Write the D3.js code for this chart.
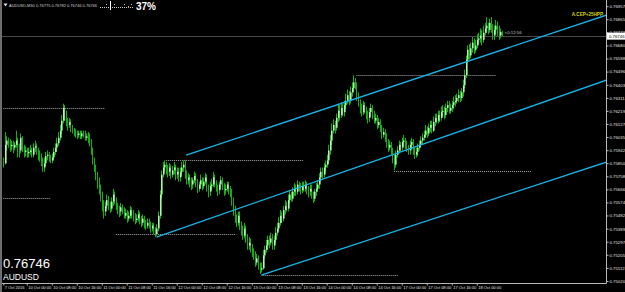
<!DOCTYPE html>
<html><head><meta charset="utf-8">
<script src="https://cdn.jsdelivr.net/npm/d3@7"></script>
<style>html,body{margin:0;padding:0;background:#000;overflow:hidden}</style>
</head><body>
<svg id="c" width="625" height="292"></svg>
<script>
// ---- data (AUDUSD M30, 7 Oct 2016 16:30 -> 18 Oct 2016 08:00) ----
const symbol = "AUDUSD";
const headerText = "AUDUSD,M30 0.76775 0.76782 0.76746 0.76746";
const lastPrice = 0.76746;
const firstOpen = 0.7587;
const closes = [
0.7585,0.7598,0.7601,0.7600,0.7597,0.7598,0.7596,0.7598,0.7601,0.7596,0.7594,0.7603,0.7596,0.7593,0.7594,0.7592,
0.7593,0.7594,0.7591,0.7596,0.7597,0.7594,0.7591,0.7589,0.7587,0.7582,0.7585,0.7590,0.7591,0.7589,0.7587,0.7589,
0.7593,0.7596,0.7599,0.7603,0.7608,0.7615,0.7624,0.7619,0.7614,0.7612,0.7614,0.7610,0.7608,0.7607,0.7606,0.7605,
0.7606,0.7604,0.7606,0.7605,0.7603,0.7604,0.7603,0.7600,0.7594,0.7587,0.7582,0.7577,0.7572,0.7567,0.7563,0.7555,
0.7551,0.7555,0.7559,0.7555,0.7553,0.7558,0.7563,0.7559,0.7555,0.7552,0.7551,0.7554,0.7552,0.7548,0.7550,0.7546,
0.7548,0.7552,0.7549,0.7547,0.7545,0.7546,0.7549,0.7545,0.7543,0.7546,0.7542,0.7541,0.7543,0.7541,0.7539,0.7541,
0.7538,0.7535,0.7539,0.7548,0.7563,0.7577,0.7582,0.7584,0.7580,0.7579,0.7582,0.7577,0.7580,0.7582,0.7577,0.7579,
0.7575,0.7579,0.7582,0.7584,0.7577,0.7573,0.7575,0.7572,0.7570,0.7573,0.7576,0.7571,0.7567,0.7570,0.7573,0.7569,
0.7572,0.7575,0.7567,0.7565,0.7569,0.7570,0.7575,0.7571,0.7567,0.7566,0.7570,0.7573,0.7568,0.7566,0.7567,0.7570,
0.7566,0.7565,0.7559,0.7552,0.7546,0.7543,0.7548,0.7541,0.7538,0.7534,0.7539,0.7532,0.7527,0.7529,0.7525,0.7522,
0.7520,0.7515,0.7518,0.7513,0.7510,0.7511,0.7520,0.7524,0.7527,0.7531,0.7529,0.7532,0.7527,0.7531,0.7536,0.7539,
0.7543,0.7548,0.7546,0.7552,0.7555,0.7553,0.7559,0.7563,0.7560,0.7565,0.7567,0.7565,0.7570,0.7567,0.7566,0.7569,
0.7567,0.7570,0.7566,0.7565,0.7567,0.7563,0.7560,0.7565,0.7567,0.7570,0.7575,0.7579,0.7577,0.7582,0.7584,0.7587,
0.7594,0.7601,0.7608,0.7612,0.7610,0.7617,0.7622,0.7619,0.7624,0.7621,0.7626,0.7629,0.7633,0.7629,0.7635,0.7638,
0.7642,0.7640,0.7633,0.7628,0.7624,0.7621,0.7626,0.7622,0.7619,0.7617,0.7621,0.7624,0.7619,0.7615,0.7617,0.7612,
0.7614,0.7610,0.7605,0.7607,0.7603,0.7600,0.7596,0.7598,0.7594,0.7589,0.7584,0.7591,0.7594,0.7598,0.7596,0.7600,
0.7601,0.7598,0.7596,0.7594,0.7598,0.7600,0.7594,0.7591,0.7593,0.7596,0.7598,0.7601,0.7603,0.7605,0.7608,0.7606,
0.7610,0.7612,0.7608,0.7614,0.7617,0.7615,0.7619,0.7617,0.7621,0.7622,0.7619,0.7624,0.7626,0.7622,0.7624,0.7626,
0.7628,0.7629,0.7631,0.7633,0.7631,0.7635,0.7640,0.7647,0.7658,0.7665,0.7661,0.7666,0.7670,0.7665,0.7668,0.7672,
0.7673,0.7675,0.7672,0.7677,0.7680,0.7682,0.7679,0.7684,0.7680,0.7675,0.7679,0.7682,0.7679,0.7675,0.76775,0.76746];
const highs = [
0.7589,0.7607,0.7604,0.7603,0.7602,0.7601,0.7601,0.7600,0.7608,0.7603,0.7599,0.7606,0.7604,0.7598,0.7597,0.7596,
0.7596,0.7598,0.7596,0.7599,0.7601,0.7599,0.7596,0.7594,0.7592,0.7589,0.7589,0.7593,0.7594,0.7593,0.7591,0.7592,
0.7596,0.7599,0.7603,0.7607,0.7612,0.7619,0.7627,0.7626,0.7622,0.7617,0.7617,0.7616,0.7612,0.7610,0.7609,0.7608,
0.7608,0.7608,0.7608,0.7608,0.7608,0.7606,0.7607,0.7606,0.7602,0.7596,0.7589,0.7584,0.7579,0.7575,0.7570,0.7565,
0.7559,0.7558,0.7563,0.7562,0.7558,0.7561,0.7567,0.7565,0.7561,0.7557,0.7555,0.7557,0.7556,0.7554,0.7553,0.7552,
0.7551,0.7555,0.7554,0.7552,0.7550,0.7549,0.7552,0.7551,0.7548,0.7549,0.7548,0.7545,0.7546,0.7546,0.7544,0.7543,
0.7543,0.7540,0.7542,0.7551,0.7566,0.7580,0.7586,0.7587,0.7586,0.7584,0.7585,0.7584,0.7583,0.7586,0.7584,0.7582,
0.7582,0.7582,0.7586,0.7587,0.7587,0.7580,0.7578,0.7577,0.7575,0.7575,0.7579,0.7578,0.7574,0.7572,0.7577,0.7575,
0.7575,0.7578,0.7577,0.7570,0.7572,0.7574,0.7579,0.7577,0.7573,0.7570,0.7572,0.7576,0.7575,0.7571,0.7570,0.7572,
0.7572,0.7569,0.7567,0.7561,0.7555,0.7549,0.7551,0.7551,0.7544,0.7541,0.7543,0.7541,0.7535,0.7533,0.7532,0.7528,
0.7525,0.7523,0.7521,0.7520,0.7515,0.7515,0.7524,0.7527,0.7531,0.7534,0.7534,0.7536,0.7535,0.7534,0.7540,0.7543,
0.7547,0.7552,0.7551,0.7555,0.7559,0.7558,0.7563,0.7566,0.7565,0.7568,0.7571,0.7570,0.7573,0.7572,0.7571,0.7572,
0.7572,0.7573,0.7572,0.7569,0.7570,0.7570,0.7565,0.7567,0.7571,0.7573,0.7578,0.7582,0.7582,0.7585,0.7587,0.7591,
0.7598,0.7605,0.7613,0.7616,0.7615,0.7620,0.7627,0.7626,0.7628,0.7627,0.7629,0.7634,0.7637,0.7636,0.7639,0.7642,
0.7647,0.7645,0.7642,0.7635,0.7630,0.7627,0.7629,0.7628,0.7625,0.7622,0.7624,0.7627,0.7626,0.7622,0.7620,0.7619,
0.7617,0.7616,0.7612,0.7610,0.7609,0.7606,0.7602,0.7601,0.7600,0.7596,0.7591,0.7594,0.7597,0.7601,0.7600,0.7603,
0.7605,0.7603,0.7601,0.7598,0.7601,0.7603,0.7602,0.7596,0.7596,0.7599,0.7601,0.7604,0.7606,0.7608,0.7612,0.7611,
0.7613,0.7615,0.7615,0.7618,0.7620,0.7620,0.7622,0.7622,0.7625,0.7626,0.7625,0.7627,0.7629,0.7629,0.7627,0.7629,
0.7632,0.7633,0.7634,0.7637,0.7636,0.7638,0.7644,0.7651,0.7661,0.7668,0.7669,0.7670,0.7674,0.7673,0.7672,0.7676,
0.7677,0.7680,0.7679,0.7682,0.7684,0.7688,0.7684,0.7687,0.7688,0.7683,0.7682,0.7686,0.7685,0.7682,0.7680,0.76782];
const lows = [
0.7582,0.7584,0.7594,0.7596,0.7593,0.7594,0.7592,0.7594,0.7596,0.7589,0.7589,0.7592,0.7593,0.7589,0.7590,0.7589,
0.7589,0.7591,0.7589,0.7589,0.7593,0.7591,0.7587,0.7586,0.7583,0.7579,0.7579,0.7583,0.7587,0.7586,0.7585,0.7585,
0.7587,0.7591,0.7593,0.7597,0.7601,0.7606,0.7613,0.7615,0.7611,0.7608,0.7610,0.7607,0.7606,0.7604,0.7603,0.7602,
0.7603,0.7602,0.7602,0.7603,0.7601,0.7601,0.7599,0.7597,0.7591,0.7584,0.7579,0.7573,0.7567,0.7563,0.7558,0.7551,
0.7546,0.7548,0.7553,0.7552,0.7550,0.7551,0.7555,0.7556,0.7552,0.7549,0.7547,0.7548,0.7549,0.7546,0.7546,0.7543,
0.7544,0.7546,0.7546,0.7544,0.7542,0.7543,0.7544,0.7542,0.7540,0.7541,0.7539,0.7538,0.7539,0.7539,0.7536,0.7537,
0.7535,0.7533,0.7534,0.7537,0.7546,0.7560,0.7575,0.7579,0.7577,0.7575,0.7576,0.7574,0.7575,0.7577,0.7573,0.7574,
0.7572,0.7572,0.7576,0.7579,0.7574,0.7570,0.7570,0.7568,0.7566,0.7567,0.7571,0.7568,0.7564,0.7565,0.7567,0.7566,
0.7567,0.7570,0.7565,0.7561,0.7562,0.7566,0.7568,0.7568,0.7565,0.7562,0.7563,0.7567,0.7566,0.7562,0.7563,0.7565,
0.7563,0.7561,0.7555,0.7548,0.7543,0.7540,0.7541,0.7538,0.7534,0.7531,0.7532,0.7529,0.7524,0.7524,0.7522,0.7519,
0.7517,0.7512,0.7513,0.7510,0.7507,0.7508,0.7510,0.7518,0.7522,0.7524,0.7525,0.7527,0.7524,0.7524,0.7529,0.7534,
0.7537,0.7541,0.7543,0.7544,0.7549,0.7551,0.7551,0.7557,0.7558,0.7558,0.7562,0.7562,0.7563,0.7565,0.7563,0.7564,
0.7565,0.7565,0.7563,0.7561,0.7562,0.7560,0.7557,0.7558,0.7562,0.7565,0.7567,0.7572,0.7574,0.7575,0.7579,0.7582,
0.7585,0.7591,0.7598,0.7606,0.7606,0.7608,0.7614,0.7615,0.7617,0.7618,0.7618,0.7623,0.7627,0.7626,0.7627,0.7632,
0.7635,0.7637,0.7629,0.7625,0.7620,0.7618,0.7619,0.7620,0.7616,0.7613,0.7614,0.7618,0.7616,0.7613,0.7613,0.7609,
0.7610,0.7607,0.7602,0.7603,0.7600,0.7596,0.7593,0.7594,0.7591,0.7585,0.7580,0.7582,0.7589,0.7592,0.7593,0.7594,
0.7597,0.7595,0.7593,0.7591,0.7591,0.7595,0.7591,0.7588,0.7589,0.7590,0.7594,0.7596,0.7598,0.7601,0.7603,0.7603,
0.7604,0.7607,0.7606,0.7607,0.7611,0.7613,0.7613,0.7614,0.7615,0.7618,0.7616,0.7617,0.7621,0.7620,0.7620,0.7621,
0.7623,0.7625,0.7627,0.7628,0.7628,0.7629,0.7632,0.7638,0.7645,0.7656,0.7658,0.7659,0.7663,0.7662,0.7663,0.7666,
0.7669,0.7670,0.7668,0.7670,0.7675,0.7677,0.7676,0.7677,0.7677,0.7672,0.7672,0.7676,0.7675,0.7672,0.7673,0.76746];

const priceTicks = [0.76957,0.76865,0.76773,0.76680,0.76588,0.76496,0.76403,0.76311,0.76219,0.76127,0.76035,
  0.75942,0.75850,0.75758,0.75666,0.75574,0.75482,0.75389,0.75297,0.75205,0.75112,0.75020];
const timeTickBars = [0,15,31,47,63,79,95,111,127,143,159,175,191,207,223,239,255,271,287,303];
const timeLabels = ["7 Oct 2016","10 Oct 00:00","10 Oct 08:00","10 Oct 16:00","11 Oct 00:00","11 Oct 08:00",
  "11 Oct 16:00","12 Oct 00:00","12 Oct 08:00","12 Oct 16:00","13 Oct 00:00","13 Oct 08:00","13 Oct 16:00",
  "14 Oct 00:00","14 Oct 08:00","14 Oct 16:00","17 Oct 00:00","17 Oct 08:00","17 Oct 16:00","18 Oct 00:00"];

// channel lines: [startBar, startPrice, endBar, endPrice]
const channelStart = [[117, 0.75907], [98, 0.75329], [165, 0.75061]];
const channelEnd   = [[386, 0.76894], [386, 0.76436], [386, 0.75858]];
// dotted support / resistance levels: [fromBar, toBar, price]
const levelFrom  = [0, 0, 104, 72, 226, 250, 166];
const levelTo    = [65, 30, 192, 149, 315, 338, 253];
const levelPrice = [0.76239, 0.75608, 0.75872, 0.75350, 0.76471, 0.75794, 0.75065];
const timerText = "<0:12:56";
const indicatorText = "A.CEP+25HPP";
const spreadPct = "37%";

// ---- drawing ----
const svg = d3.select("#c");
const W = 625, H = 292, axisX = 606, axisY = 283;
svg.append("rect").attr("width", W).attr("height", H).attr("fill", "#000");

const x = d3.scaleLinear().domain([0, 384]).range([3.3, 603.3]);
const y = d3.scaleLinear().domain([0.75020, 0.76957]).range([281, 6.2]);

const plot = svg.append("g");
plot.append("clipPath").attr("id","clip").append("rect").attr("x",2).attr("y",0).attr("width",axisX-2).attr("height",axisY);
const g = plot.append("g").attr("clip-path","url(#clip)");

// current price line
g.append("line").attr("x1", 2).attr("x2", axisX).attr("y1", Math.round(y(lastPrice))+0.5).attr("y2", Math.round(y(lastPrice))+0.5)
  .attr("stroke", "#4a4a4a").attr("stroke-width", 1);

// dotted levels
levelPrice.forEach((p, k) => {
  const yy = Math.round(y(p)) + 0.5;
  g.append("line").attr("x1", x(levelFrom[k])).attr("x2", x(levelTo[k])).attr("y1", yy).attr("y2", yy)
    .attr("stroke", "#a8a8a8").attr("stroke-width", 1).attr("stroke-dasharray", "1,1");
});

// bars
const bars = closes.map((c, i) => ({i, o: i === 0 ? firstOpen : closes[i-1], h: highs[i], l: lows[i], c}));
const bg = g.append("g");
bg.selectAll("line.w").data(bars).join("line").attr("class","w")
  .attr("x1", d => Math.round(x(d.i)) + 0.5).attr("x2", d => Math.round(x(d.i)) + 0.5)
  .attr("y1", d => y(Math.max(d.h, d.o, d.c))).attr("y2", d => y(Math.min(d.l, d.o, d.c)))
  .attr("stroke", "#12b012").attr("stroke-width", 1);
bg.selectAll("rect.b").data(bars.filter(d => d.c > d.o)).join("rect").attr("class","b")
  .attr("x", d => Math.round(x(d.i))).attr("width", 1.6)
  .attr("y", d => y(d.c)).attr("height", d => Math.max(1, y(d.o) - y(d.c)))
  .attr("fill", "#a4ffa4");

// channel lines (rays to right edge)
channelStart.forEach((s, k) => {
  const e = channelEnd[k];
  g.append("line").attr("x1", x(s[0])).attr("y1", y(s[1])).attr("x2", x(e[0])).attr("y2", y(e[1]))
    .attr("stroke", "#17b6ea").attr("stroke-width", 1.3);
});

// frame
svg.append("rect").attr("x", 0).attr("y", 0).attr("width", 2).attr("height", H).attr("fill", "#6e6e6e");
svg.append("line").attr("x1", axisX + 0.5).attr("x2", axisX + 0.5).attr("y1", 0).attr("y2", axisY + 0.5)
  .attr("stroke", "#b8b8b8");
svg.append("line").attr("x1", 2).attr("x2", axisX + 0.5).attr("y1", axisY + 0.5).attr("y2", axisY + 0.5)
  .attr("stroke", "#b8b8b8");

// price axis
const ya = d3.axisRight(y).tickValues(priceTicks).tickFormat(d => d.toFixed(5)).tickSize(2).tickPadding(1);
const yag = svg.append("g").attr("transform", `translate(${axisX + 0.5},0)`).call(ya);
yag.select(".domain").remove();
yag.selectAll("line").attr("stroke", "#b8b8b8");
yag.selectAll("text").attr("fill", "#e0e0e0").attr("font-family", "Liberation Sans, Arial, sans-serif").attr("font-size", 4.3);

// time axis
const xa = d3.axisBottom(x).tickValues(timeTickBars).tickFormat((d, k) => timeLabels[k]).tickSize(2).tickPadding(1);
const xag = svg.append("g").attr("transform", `translate(0,${axisY + 0.5})`).call(xa);
xag.select(".domain").remove();
xag.selectAll("line").attr("stroke", "#b8b8b8");
xag.selectAll("text").attr("fill", "#e0e0e0").attr("text-anchor", "start").attr("dx", 1)
  .attr("font-family", "Liberation Sans, Arial, sans-serif").attr("font-size", 4);

// current price label box
const yl = y(lastPrice);
svg.append("rect").attr("x", axisX + 1).attr("y", yl - 3.5).attr("width", W - axisX - 1).attr("height", 7).attr("fill", "#ffffff");
svg.append("text").attr("x", axisX + 3).attr("y", yl + 1.6).attr("fill", "#000").attr("font-size", 4.3)
  .attr("font-family", "Liberation Sans, Arial, sans-serif").text(lastPrice.toFixed(5));

// timer text
svg.append("text").attr("x", x(closes.length - 1) + 3).attr("y", yl - 2.5).attr("fill", "#c8c8c8")
  .attr("font-size", 4.3).attr("font-family", "Liberation Sans, Arial, sans-serif").text(timerText);

// indicator label
svg.append("text").attr("x", 603).attr("y", 16).attr("text-anchor", "end").attr("fill", "#d6d600")
  .attr("font-size", 4.6).attr("font-weight", "bold").attr("font-family", "Liberation Sans, Arial, sans-serif").text(indicatorText);

// header
svg.append("path").attr("d", "M3.5,3.5 L7.5,3.5 L5.5,6.5 Z").attr("fill", "#e0e0e0");
svg.append("text").attr("x", 9).attr("y", 6.5).attr("fill", "#d0d0d0").attr("font-size", 4)
  .attr("font-family", "Liberation Sans, Arial, sans-serif").text(headerText);
// small spread meter
const meter = svg.append("g");
d3.range(100, 133, 2).forEach(px => meter.append("rect").attr("x", px).attr("y", 7).attr("width", 1).attr("height", 1).attr("fill", "#c8c8c8"));
[106, 114, 124, 131].forEach(px => meter.append("rect").attr("x", px).attr("y", 4).attr("width", 1).attr("height", 1).attr("fill", "#c8c8c8"));
meter.append("rect").attr("x", 110).attr("y", 1).attr("width", 1).attr("height", 9).attr("fill", "#ffffff");
meter.append("rect").attr("x", 128).attr("y", 6).attr("width", 1).attr("height", 2).attr("fill", "#e0a040");
svg.append("text").attr("x", 136).attr("y", 10).attr("fill", "#ffffff").attr("font-size", 10).attr("font-weight", "bold")
  .attr("font-family", "Liberation Sans, Arial, sans-serif").text(spreadPct);

// big price / symbol
svg.append("text").attr("x", 3).attr("y", 267.5).attr("fill", "#ffffff").attr("font-size", 13)
  .attr("font-family", "Liberation Sans, Arial, sans-serif").text(lastPrice.toFixed(5));
svg.append("text").attr("x", 3).attr("y", 279.5).attr("fill", "#ffffff").attr("font-size", 8.5)
  .attr("font-family", "Liberation Sans, Arial, sans-serif").text(symbol);
</script>
</body></html>
